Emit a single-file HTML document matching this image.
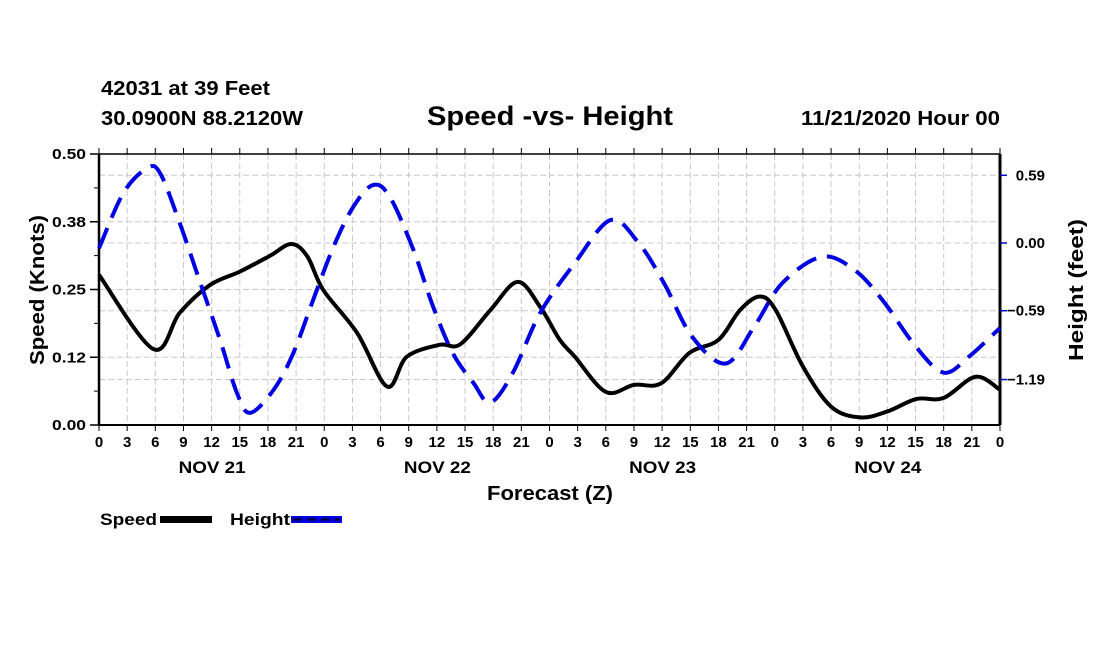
<!DOCTYPE html>
<html><head><meta charset="utf-8"><style>
body{margin:0;background:#fff;width:1100px;height:650px;overflow:hidden}
svg text{font-family:"Liberation Sans",sans-serif;font-weight:bold;fill:#000}
</style></head><body>
<svg id="chart" width="1100" height="650" viewBox="0 0 1100 650" xmlns="http://www.w3.org/2000/svg">
<text x="101" y="95" font-size="20" textLength="169" lengthAdjust="spacingAndGlyphs">42031 at 39 Feet</text>
<text x="101" y="125" font-size="20" textLength="202" lengthAdjust="spacingAndGlyphs">30.0900N 88.2120W</text>
<text x="427" y="125" font-size="27" textLength="246" lengthAdjust="spacingAndGlyphs">Speed -vs- Height</text>
<text x="801" y="125" font-size="20" textLength="199" lengthAdjust="spacingAndGlyphs">11/21/2020 Hour 00</text>
<g id="grid"></g>
<g id="axes"></g>
<g id="series"></g>
<text transform="translate(44,290) rotate(-90)" font-size="20" text-anchor="middle" textLength="150" lengthAdjust="spacingAndGlyphs">Speed (Knots)</text>
<text transform="translate(1083,290) rotate(-90)" font-size="20" text-anchor="middle" textLength="142" lengthAdjust="spacingAndGlyphs">Height (feet)</text>
<text x="487" y="500" font-size="20" textLength="126" lengthAdjust="spacingAndGlyphs">Forecast (Z)</text>
<g>
<text x="100" y="525" font-size="17" textLength="57" lengthAdjust="spacingAndGlyphs">Speed</text>
<rect x="160" y="516" width="52" height="7" fill="#000"/>
<text x="230" y="525" font-size="17" textLength="60" lengthAdjust="spacingAndGlyphs">Height</text>
<rect x="291" y="516" width="51" height="7" fill="#0000dd"/>
<line x1="293" y1="519.5" x2="340" y2="519.5" stroke="#000030" stroke-width="2" stroke-dasharray="9,5"/>
</g>
</svg>
<script>
const hours = [0,96];
const speedHours = [0,5.8,8.6,11.8,15,18.2,20.5,22.2,23.9,27.5,30.7,32.8,36.3,38.5,41.7,44.6,47,49.1,50.7,54,57,59.9,62.9,66,68.3,70.4,72.1,75,78,81.1,84,87.1,90,93.4,96];
const speedValues = [0.277,0.140,0.207,0.258,0.283,0.312,0.334,0.311,0.249,0.170,0.071,0.126,0.148,0.149,0.212,0.264,0.218,0.157,0.126,0.061,0.074,0.077,0.133,0.157,0.212,0.237,0.212,0.108,0.034,0.014,0.025,0.048,0.050,0.089,0.065];
const heightHours = [0,2.6,5.1,6.5,8.6,10.8,12.9,14.7,16.1,18.6,20.7,22.8,25,27.1,29.2,31,33.5,35.6,37.7,39.9,41.7,44.1,47,50.7,54.5,57.5,60.2,63.2,66.8,69.8,72.8,77,80.5,83.5,87,90,92.7,96];
const heightValues = [-0.046,0.436,0.650,0.61,0.174,-0.349,-0.845,-1.307,-1.48,-1.28,-0.96,-0.50,-0.03,0.316,0.505,0.40,-0.06,-0.555,-0.96,-1.22,-1.39,-1.13,-0.61,-0.174,0.20,0.0,-0.35,-0.817,-1.05,-0.73,-0.35,-0.12,-0.235,-0.50,-0.90,-1.13,-0.99,-0.74];
const xTickLabels = ["0","3","6","9","12","15","18","21"];
const dayLabels = ["NOV 21","NOV 22","NOV 23","NOV 24"];
const speedTicks = [0,0.125,0.25,0.375,0.5];
const speedTickLabels = ["0.00","0.12","0.25","0.38","0.50"];
const heightTicks = [0.59,0,-0.59,-1.19];
const heightTickLabels = ["0.59","0.00","\u22120.59","\u22121.19"];

const L=99,R=1000,T=154,B=425;
const x=h=>L+(h-hours[0])/(hours[1]-hours[0])*(R-L);
const yS=v=>B-v/0.5*(B-T);
const yH=v=>243-v/0.59*67.7;
const NS='http://www.w3.org/2000/svg';
function mk(tag,attrs,parent){const e=document.createElementNS(NS,tag);for(const k in attrs)e.setAttribute(k,attrs[k]);parent.appendChild(e);return e;}
const grid=document.getElementById('grid'),axes=document.getElementById('axes'),series=document.getElementById('series');

for(let h=3;h<96;h+=3){
  const g=mk('line',{x1:x(h),x2:x(h),y1:T,y2:B,stroke:'#c8c8c8','stroke-dasharray':'6,3'},grid);
  
  
}
speedTicks.slice(1,4).forEach(v=>{
  const g=mk('line',{x1:L,x2:R,y1:yS(v),y2:yS(v),stroke:'#c8c8c8','stroke-dasharray':'6,3'},grid);
  
  
});
heightTicks.forEach(v=>{
  const g=mk('line',{x1:L,x2:R,y1:yH(v),y2:yH(v),stroke:'#c8c8c8','stroke-dasharray':'6,3'},grid);
  
  
});
mk('line',{x1:L,x2:R,y1:T,y2:T,stroke:'#000','stroke-width':1.5},axes);
mk('line',{x1:L,x2:R,y1:B,y2:B,stroke:'#000','stroke-width':2},axes);
mk('line',{x1:L,x2:L,y1:T,y2:B,stroke:'#000','stroke-width':2.5},axes);
mk('line',{x1:R,x2:R,y1:T,y2:B,stroke:'#000','stroke-width':3},axes);
for(let h=0;h<=96;h+=3){
  mk('line',{x1:x(h),x2:x(h),y1:B,y2:B+6,stroke:'#000'},axes);
  mk('line',{x1:x(h),x2:x(h),y1:T,y2:T-6,stroke:'#000'},axes);
  const t=mk('text',{x:x(h),y:B+22,'font-size':15,'text-anchor':'middle'},axes);
  t.textContent=xTickLabels[(h/3)%8];
  
  
}
dayLabels.forEach((d,i)=>{
  const t=mk('text',{x:x(i*24+12)-33,y:B+48,'font-size':17,textLength:67,lengthAdjust:'spacingAndGlyphs'},axes);
  t.textContent=d;
  
  
});
for(let v=0;v<=0.5001;v+=0.0625){mk('line',{x1:L,x2:L-5,y1:yS(v),y2:yS(v),stroke:'#000'},axes);}
speedTicks.forEach((v,i)=>{
  mk('line',{x1:L,x2:L-9,y1:yS(v),y2:yS(v),stroke:'#000','stroke-width':1.5},axes);
  const t=mk('text',{x:52,y:yS(v)+5,'font-size':15,textLength:34,lengthAdjust:'spacingAndGlyphs'},axes);
  t.textContent=speedTickLabels[i];
  
  
});
heightTicks.forEach((v,i)=>{
  mk('line',{x1:R,x2:R+7,y1:yH(v),y2:yH(v),stroke:'#0000cc','stroke-width':1.5},axes);
  const t=mk('text',{x:1045,y:yH(v)+5,'font-size':15,'text-anchor':'end'},axes);
  t.textContent=heightTickLabels[i];
  
  
});
function smooth(pts){
  let d='M'+pts[0][0]+','+pts[0][1];
  for(let i=0;i<pts.length-1;i++){
    const p0=pts[Math.max(0,i-1)],p1=pts[i],p2=pts[i+1],p3=pts[Math.min(pts.length-1,i+2)];
    const c1=[p1[0]+(p2[0]-p0[0])/6,p1[1]+(p2[1]-p0[1])/6];
    const c2=[p2[0]-(p3[0]-p1[0])/6,p2[1]-(p3[1]-p1[1])/6];
    d+=' C'+c1+' '+c2+' '+p2;
  }
  return d;
}
const sp=mk('path',{d:smooth(speedHours.map((h,i)=>[x(h),yS(speedValues[i])])),fill:'none',stroke:'#000','stroke-width':4,'stroke-linejoin':'round'},series);


const hp=mk('path',{d:smooth(heightHours.map((h,i)=>[x(h),yH(heightValues[i])])),fill:'none',stroke:'#0000e0','stroke-width':4,'stroke-dasharray':'22,11'},series);


</script>
</body></html>
